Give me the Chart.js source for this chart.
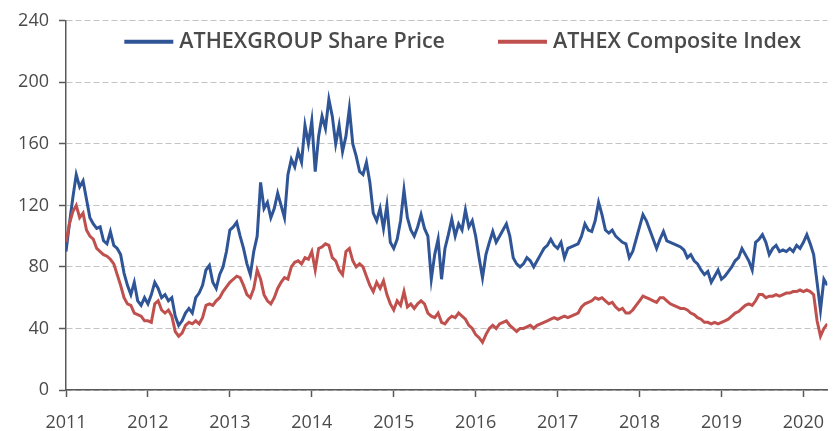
<!DOCTYPE html>
<html>
<head>
<meta charset="utf-8">
<script src="https://cdn.jsdelivr.net/npm/chart.js@4.4.0/dist/chart.umd.min.js"></script>
<style>
  html, body { margin: 0; padding: 0; background: #fff; }
</style>
</head>
<body>
<canvas id="chart" width="839" height="431"></canvas>
<script>
// two readings per month, starting January 2011
const startYear = 2011;
const pointsPerYear = 24;
const yearTicks = [2011, 2012, 2013, 2014, 2015, 2016, 2017, 2018, 2019, 2020];
const valueTicks = [0, 40, 80, 120, 160, 200, 240];

const shareLabel = "ATHEXGROUP Share Price";
const indexLabel = "ATHEX Composite Index";

const sharePrice = [
  90, 108, 125, 140, 132, 136, 124, 112, 108, 105, 106, 97, 95, 103, 94, 92, 88, 76, 68, 62, 70, 58, 55, 60,
  56, 62, 70, 66, 60, 62, 58, 60, 48, 42, 45, 50, 53, 50, 60, 63, 68, 78, 81, 70, 66, 75, 80, 90,
  104, 106, 109, 100, 92, 82, 75, 90, 100, 135, 118, 122, 112, 118, 128, 120, 112, 140, 150, 145, 155, 148, 172, 160,
  175, 142, 165, 178, 170, 189, 178, 160, 172, 155, 165, 183, 160, 152, 142, 140, 148, 135, 115, 110, 118, 105, 120, 96,
  92, 98, 110, 130, 112, 104, 100, 106, 114, 105, 100, 72, 88, 98, 72, 92, 101, 111, 100, 108, 104, 117, 106, 110,
  100, 86, 73, 88, 96, 103, 96, 100, 104, 108, 100, 86, 82, 80, 82, 86, 84, 80, 84, 88, 92, 94, 98, 94,
  92, 96, 86, 92, 93, 94, 95, 100, 108, 104, 103, 110, 122, 114, 104, 102, 104, 100, 98, 96, 95, 86, 90, 98,
  106, 114, 110, 104, 98, 92, 98, 103, 97, 96, 95, 94, 93, 91, 86, 88, 84, 82, 78, 75, 77, 70, 74, 78,
  72, 74, 77, 80, 84, 86, 92, 88, 84, 78, 96, 98, 101, 96, 88, 92, 94, 90, 91, 90, 92, 90, 94, 92,
  96, 101, 95, 88, 70, 52, 72, 68
];

const compositeIndex = [
  96, 108, 116, 120, 112, 115, 104, 100, 98, 92, 90, 88, 87, 85, 82, 75, 68, 60, 56, 55, 50, 49, 48, 45,
  45, 44, 56, 58, 52, 50, 52, 48, 38, 35, 37, 42, 44, 43, 45, 43, 47, 55, 56, 55, 58, 60, 64, 67,
  70, 72, 74, 73, 68, 62, 60, 66, 78, 72, 62, 58, 56, 60, 66, 70, 73, 72, 80, 83, 84, 82, 86, 85,
  90, 78, 92, 93, 95, 94, 86, 84, 78, 75, 90, 92, 84, 80, 82, 80, 74, 68, 64, 70, 66, 71, 62, 56,
  52, 58, 55, 64, 54, 56, 53, 56, 58, 56, 50, 48, 47, 50, 44, 43, 46, 48, 47, 50, 48, 46, 42, 40,
  36, 34, 31, 36, 40, 42, 40, 43, 44, 45, 42, 40, 38, 40, 40, 41, 42, 40, 42, 43, 44, 45, 46, 47,
  46, 47, 48, 47, 48, 49, 50, 54, 56, 57, 58, 60, 59, 60, 58, 56, 57, 54, 52, 53, 50, 50, 52, 55,
  58, 61, 60, 59, 58, 57, 60, 60, 58, 56, 55, 54, 53, 53, 52, 50, 49, 47, 46, 44, 44, 43, 44, 43,
  44, 45, 46, 48, 50, 51, 53, 55, 56, 55, 58, 62, 62, 60, 61, 61, 62, 61, 62, 63, 63, 64, 64, 65,
  64, 65, 64, 62, 45, 35, 40, 43
];

const BLUE = "#2f5597";
const RED = "#c0504d";
const TEXT = "#4a4a4a";
const AXIS = "#595959";

const toPoints = arr => arr.map((v, i) => ({ x: startYear + i / pointsPerYear, y: v }));
const lastX = startYear + (sharePrice.length - 1) / pointsPerYear;

// Excel-style legend floating inside the plot, one row
const insideLegend = {
  id: "insideLegend",
  afterDraw(chart) {
    const { ctx, chartArea } = chart;
    const lineLen = 49, textGap = 6, itemGap = 53;
    const items = [chart.data.datasets[1], chart.data.datasets[0]];
    ctx.save();
    ctx.font = "600 21.5px 'Open Sans'";
    ctx.textBaseline = "middle";
    const widths = items.map(ds => lineLen + textGap + ctx.measureText(ds.label).width);
    const total = widths.reduce((a, b) => a + b, 0) + itemGap * (items.length - 1);
    let x = (chartArea.left + chartArea.right) / 2 + 16 - total / 2;
    const y = chartArea.top + 21;
    items.forEach((ds, i) => {
      ctx.strokeStyle = ds.borderColor;
      ctx.lineWidth = 4;
      ctx.beginPath();
      ctx.moveTo(x, y);
      ctx.lineTo(x + lineLen, y);
      ctx.stroke();
      ctx.fillStyle = TEXT;
      ctx.fillText(ds.label, x + lineLen + textGap, y);
      x += widths[i] + itemGap;
    });
    ctx.restore();
  }
};

new Chart(document.getElementById("chart"), {
  type: "line",
  data: {
    datasets: [
      {
        label: indexLabel,
        data: toPoints(compositeIndex),
        borderColor: RED,
        backgroundColor: RED,
        borderWidth: 3,
        pointRadius: 0,
        tension: 0
      },
      {
        label: shareLabel,
        data: toPoints(sharePrice),
        borderColor: BLUE,
        backgroundColor: BLUE,
        borderWidth: 3,
        pointRadius: 0,
        tension: 0
      }
    ]
  },
  options: {
    responsive: false,
    animation: false,
    layout: { padding: { top: 16, right: 0, left: 0, bottom: 0 } },
    plugins: {
      tooltip: { enabled: false },
      legend: { display: false }
    },
    scales: {
      x: {
        type: "linear",
        min: startYear,
        max: lastX,
        afterBuildTicks: scale => {
          scale.ticks = yearTicks.map(v => ({ value: v }));
        },
        afterFit: scale => { scale.height = 41; },
        ticks: {
          color: TEXT,
          padding: 15,
          font: { family: "Open Sans", size: 18 },
          callback: v => String(v)
        },
        grid: {
          drawOnChartArea: false,
          drawTicks: true,
          tickLength: 7,
          tickColor: AXIS,
          tickWidth: 1.5
        },
        border: { color: AXIS, width: 1.5 }
      },
      y: {
        min: 0,
        max: 240,
        afterBuildTicks: scale => {
          scale.ticks = valueTicks.map(v => ({ value: v }));
        },
        afterFit: scale => { scale.width = 66; },
        ticks: {
          color: TEXT,
          padding: 10,
          font: { family: "Open Sans", size: 18 }
        },
        grid: {
          color: "#c3c3c3",
          lineWidth: 1,
          tickLength: 7,
          tickColor: AXIS,
          tickWidth: 1.5
        },
        border: { color: AXIS, width: 1.5, dash: [6, 3] }
      }
    }
  },
  plugins: [insideLegend]
});
</script>
</body>
</html>
